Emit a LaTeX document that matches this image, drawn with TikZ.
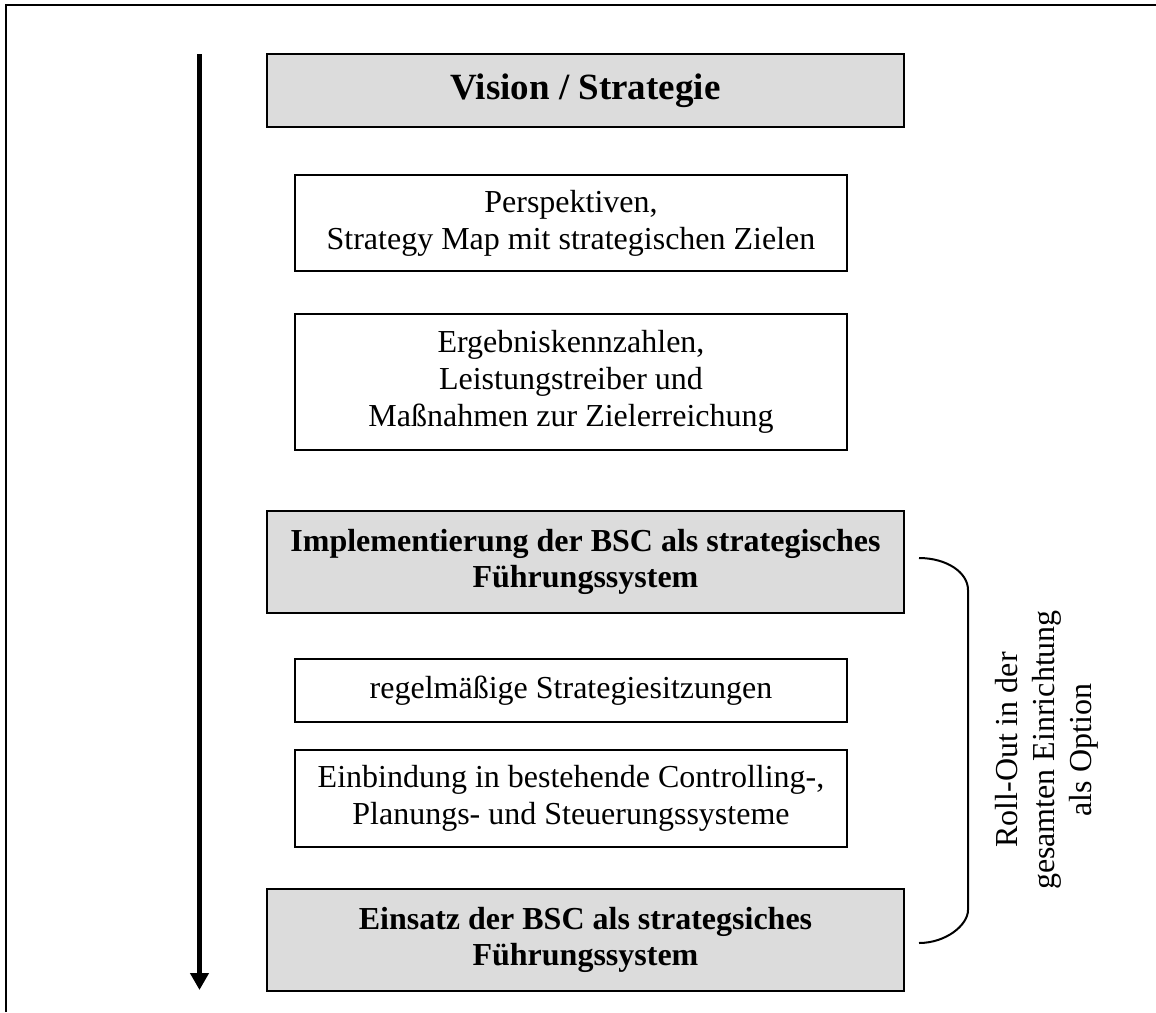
\documentclass[tikz,border=0pt]{standalone}
\usepackage{fontspec}
\setmainfont{Liberation Serif}
\usetikzlibrary{arrows.meta}
\definecolor{boxgrey}{RGB}{220,220,220}
\begin{document}
\begin{tikzpicture}[x=1pt,y=-1pt,
  box/.style={draw, line width=2pt, align=center, inner sep=0pt,
    font=\fontsize{32}{36.8}\selectfont},
  greybox/.style={box, fill=boxgrey, font=\fontsize{32}{36.8}\selectfont\bfseries},
  wide/.style={minimum width=637pt},
  narrow/.style={minimum width=552pt},
  flow/.style={line width=5.5pt, -{Triangle[width=18pt,length=17pt]}},
  bracket/.style={line width=2pt},
]
\useasboundingbox (0,0) rectangle (1156,1012);

% outer frame
\draw[line width=2pt] (6,1012) -- (6,5) -- (1156,5);

% process steps
\node[greybox, wide, minimum height=73pt, font=\fontsize{37}{42}\selectfont\bfseries]
  (vision) at (585.5,90.5) {Vision / Strategie};
\node[box, narrow, minimum height=96pt] (persp) at (571,223)
  {Perspektiven,\\Strategy Map mit strategischen Zielen};
\node[box, narrow, minimum height=136pt] (kpi) at (571,382)
  {Ergebniskennzahlen,\\Leistungstreiber und\\Maßnahmen zur Zielerreichung};
\node[greybox, wide, minimum height=102pt] (impl) at (585.5,562)
  {Implementierung der BSC als strategisches\\Führungssystem};
\node[box, narrow, minimum height=63pt] (meet) at (571,690.5)
  {regelmäßige Strategiesitzungen};
\node[box, narrow, minimum height=97pt] (integ) at (571,798.5)
  {Einbindung in bestehende Controlling-,\\Planungs- und Steuerungssysteme};
\node[greybox, wide, minimum height=102pt] (use) at (585.5,940)
  {Einsatz der BSC als strategsiches\\Führungssystem};

% time axis
\coordinate (axtop) at (199.5,54);
\coordinate (axtip) at (199.5,990);
\draw[flow] (axtop) -- (axtip);

% roll-out bracket
\coordinate (brtop) at (919,558);
\coordinate (brbot) at (919,943);
\draw[bracket] (brtop) .. controls (946,558) and (968,572) .. (968,590)
  -- (968,910) .. controls (968,925) and (946,943) .. (brbot);
\node[rotate=90, align=center, inner sep=0pt, font=\fontsize{32}{36.8}\selectfont]
  (rollout) at (1047,750) {Roll-Out in der\\gesamten Einrichtung\\als Option};
\end{tikzpicture}
\end{document}
